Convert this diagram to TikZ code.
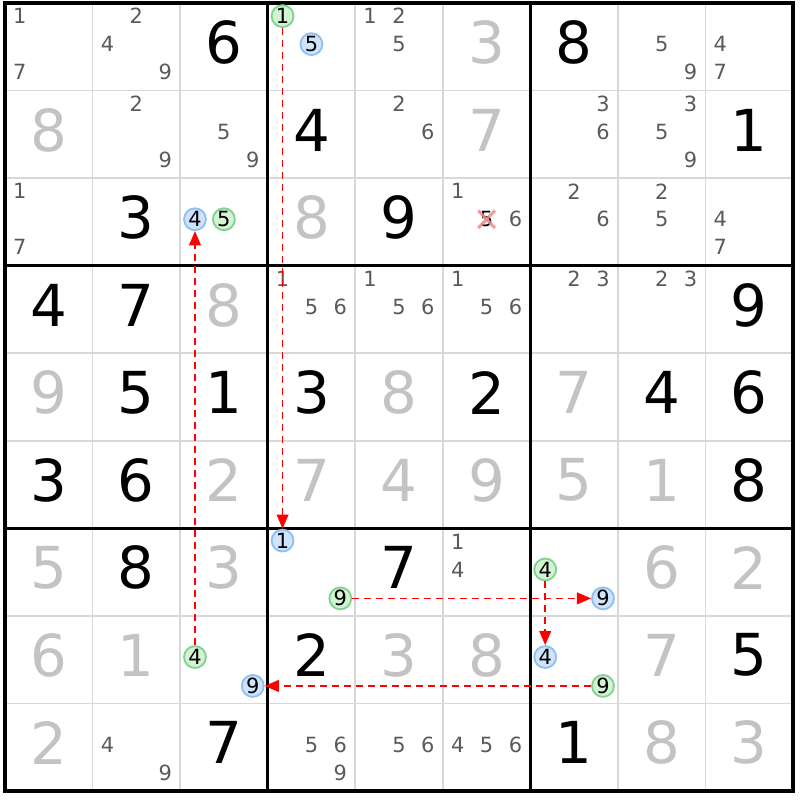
\documentclass[tikz,border=0pt]{standalone}
\usepackage{fontspec}
\setmainfont{DejaVu Sans}
\usepackage{tikz}
\usetikzlibrary{arrows.meta}
\definecolor{solvedgray}{HTML}{C3C3C3}
\definecolor{candgray}{HTML}{5A5A5A}
\definecolor{gridgray}{HTML}{D8D8D8}
\definecolor{onfill}{HTML}{CFE3FB}
\definecolor{ondraw}{HTML}{8FC0F0}
\definecolor{offfill}{HTML}{D4F2D4}
\definecolor{offdraw}{HTML}{7FD48F}
\definecolor{crossred}{HTML}{F08A8A}
\tikzset{%
    given/.style={font=\fontsize{18.8}{20}\selectfont,text=black,inner sep=0pt},
    solved/.style={given,text=solvedgray},
    cand/.style={font=\fontsize{6.8}{8}\selectfont,text=candgray,inner sep=0pt}
}

\begin{document}
\begin{tikzpicture}[
            thin grid/.style={gridgray,line width=0.55pt},
            box grid/.style={black,line width=1.1pt},
            oncand/.style={cand,text=black,circle,draw=ondraw,fill=onfill,minimum size=0.25cm,line width=0.6pt},
            offcand/.style={oncand,draw=offdraw,fill=offfill},
            link/.style={red,dash pattern=on 2.3pt off 1.6pt,line width=0.5pt,-{Triangle[length=4.6pt,width=3.8pt]}},
            cross/.style={crossred,line width=1pt,opacity=0.85}
            ]
            \fill[white] (-0.057,0.034) rectangle (9.08,-9.1);
            \useasboundingbox (-0.057,0.034) rectangle (9.08,-9.1);
            \draw[thin grid] (0,0) grid (9,-9);
            \draw[box grid] (0,0) grid[step=3] (9,-9);
            \draw[box grid] (0,0) rectangle (9,-9);
            % given digits
            \node[given] (r0c2) at (2.5,-0.45) {6};
            \node[given] (r0c6) at (6.5,-0.45) {8};
            \node[given] (r1c3) at (3.5,-1.45) {4};
            \node[given] (r1c8) at (8.5,-1.45) {1};
            \node[given] (r2c1) at (1.5,-2.45) {3};
            \node[given] (r2c4) at (4.5,-2.45) {9};
            \node[given] (r3c0) at (0.5,-3.45) {4};
            \node[given] (r3c1) at (1.5,-3.45) {7};
            \node[given] (r3c8) at (8.5,-3.45) {9};
            \node[given] (r4c1) at (1.5,-4.45) {5};
            \node[given] (r4c2) at (2.5,-4.45) {1};
            \node[given] (r4c3) at (3.5,-4.45) {3};
            \node[given] (r4c5) at (5.5,-4.45) {2};
            \node[given] (r4c7) at (7.5,-4.45) {4};
            \node[given] (r4c8) at (8.5,-4.45) {6};
            \node[given] (r5c0) at (0.5,-5.45) {3};
            \node[given] (r5c1) at (1.5,-5.45) {6};
            \node[given] (r5c8) at (8.5,-5.45) {8};
            \node[given] (r6c1) at (1.5,-6.45) {8};
            \node[given] (r6c4) at (4.5,-6.45) {7};
            \node[given] (r7c3) at (3.5,-7.45) {2};
            \node[given] (r7c8) at (8.5,-7.45) {5};
            \node[given] (r8c2) at (2.5,-8.45) {7};
            \node[given] (r8c6) at (6.5,-8.45) {1};
            % solved digits
            \node[solved] (r0c5) at (5.5,-0.45) {3};
            \node[solved] (r1c0) at (0.5,-1.45) {8};
            \node[solved] (r1c5) at (5.5,-1.45) {7};
            \node[solved] (r2c3) at (3.5,-2.45) {8};
            \node[solved] (r3c2) at (2.5,-3.45) {8};
            \node[solved] (r4c0) at (0.5,-4.45) {9};
            \node[solved] (r4c4) at (4.5,-4.45) {8};
            \node[solved] (r4c6) at (6.5,-4.45) {7};
            \node[solved] (r5c2) at (2.5,-5.45) {2};
            \node[solved] (r5c3) at (3.5,-5.45) {7};
            \node[solved] (r5c4) at (4.5,-5.45) {4};
            \node[solved] (r5c5) at (5.5,-5.45) {9};
            \node[solved] (r5c6) at (6.5,-5.45) {5};
            \node[solved] (r5c7) at (7.5,-5.45) {1};
            \node[solved] (r6c0) at (0.5,-6.45) {5};
            \node[solved] (r6c2) at (2.5,-6.45) {3};
            \node[solved] (r6c7) at (7.5,-6.45) {6};
            \node[solved] (r6c8) at (8.5,-6.45) {2};
            \node[solved] (r7c0) at (0.5,-7.45) {6};
            \node[solved] (r7c1) at (1.5,-7.45) {1};
            \node[solved] (r7c4) at (4.5,-7.45) {3};
            \node[solved] (r7c5) at (5.5,-7.45) {8};
            \node[solved] (r7c7) at (7.5,-7.45) {7};
            \node[solved] (r8c0) at (0.5,-8.45) {2};
            \node[solved] (r8c7) at (7.5,-8.45) {8};
            \node[solved] (r8c8) at (8.5,-8.45) {3};
            % candidates
            \node[cand] (r0c0n1) at (0.17,-0.15) {1};
            \node[cand] (r0c0n7) at (0.17,-0.79) {7};
            \node[cand] (r0c1n2) at (1.5,-0.15) {2};
            \node[cand] (r0c1n4) at (1.17,-0.47) {4};
            \node[cand] (r0c1n9) at (1.83,-0.79) {9};
            \node[offcand] (r0c3n1) at (3.17,-0.15) {1};
            \node[oncand] (r0c3n5) at (3.5,-0.47) {5};
            \node[cand] (r0c4n1) at (4.17,-0.15) {1};
            \node[cand] (r0c4n2) at (4.5,-0.15) {2};
            \node[cand] (r0c4n5) at (4.5,-0.47) {5};
            \node[cand] (r0c7n5) at (7.5,-0.47) {5};
            \node[cand] (r0c7n9) at (7.83,-0.79) {9};
            \node[cand] (r0c8n4) at (8.17,-0.47) {4};
            \node[cand] (r0c8n7) at (8.17,-0.79) {7};
            \node[cand] (r1c1n2) at (1.5,-1.15) {2};
            \node[cand] (r1c1n9) at (1.83,-1.79) {9};
            \node[cand] (r1c2n5) at (2.5,-1.47) {5};
            \node[cand] (r1c2n9) at (2.83,-1.79) {9};
            \node[cand] (r1c4n2) at (4.5,-1.15) {2};
            \node[cand] (r1c4n6) at (4.83,-1.47) {6};
            \node[cand] (r1c6n3) at (6.83,-1.15) {3};
            \node[cand] (r1c6n6) at (6.83,-1.47) {6};
            \node[cand] (r1c7n3) at (7.83,-1.15) {3};
            \node[cand] (r1c7n5) at (7.5,-1.47) {5};
            \node[cand] (r1c7n9) at (7.83,-1.79) {9};
            \node[cand] (r2c0n1) at (0.17,-2.15) {1};
            \node[cand] (r2c0n7) at (0.17,-2.79) {7};
            \node[oncand] (r2c2n4) at (2.17,-2.47) {4};
            \node[offcand] (r2c2n5) at (2.5,-2.47) {5};
            \node[cand] (r2c5n1) at (5.17,-2.15) {1};
            \node[cand,text=black] (r2c5n5) at (5.5,-2.47) {5};
            \node[cand] (r2c5n6) at (5.83,-2.47) {6};
            \node[cand] (r2c6n2) at (6.5,-2.15) {2};
            \node[cand] (r2c6n6) at (6.83,-2.47) {6};
            \node[cand] (r2c7n2) at (7.5,-2.15) {2};
            \node[cand] (r2c7n5) at (7.5,-2.47) {5};
            \node[cand] (r2c8n4) at (8.17,-2.47) {4};
            \node[cand] (r2c8n7) at (8.17,-2.79) {7};
            \node[cand] (r3c3n1) at (3.17,-3.15) {1};
            \node[cand] (r3c3n5) at (3.5,-3.47) {5};
            \node[cand] (r3c3n6) at (3.83,-3.47) {6};
            \node[cand] (r3c4n1) at (4.17,-3.15) {1};
            \node[cand] (r3c4n5) at (4.5,-3.47) {5};
            \node[cand] (r3c4n6) at (4.83,-3.47) {6};
            \node[cand] (r3c5n1) at (5.17,-3.15) {1};
            \node[cand] (r3c5n5) at (5.5,-3.47) {5};
            \node[cand] (r3c5n6) at (5.83,-3.47) {6};
            \node[cand] (r3c6n2) at (6.5,-3.15) {2};
            \node[cand] (r3c6n3) at (6.83,-3.15) {3};
            \node[cand] (r3c7n2) at (7.5,-3.15) {2};
            \node[cand] (r3c7n3) at (7.83,-3.15) {3};
            \node[oncand] (r6c3n1) at (3.17,-6.14) {1};
            \node[offcand] (r6c3n9) at (3.83,-6.8) {9};
            \node[cand] (r6c5n1) at (5.17,-6.15) {1};
            \node[cand] (r6c5n4) at (5.17,-6.47) {4};
            \node[offcand] (r6c6n4) at (6.17,-6.47) {4};
            \node[oncand] (r6c6n9) at (6.83,-6.8) {9};
            \node[offcand] (r7c2n4) at (2.17,-7.47) {4};
            \node[oncand] (r7c2n9) at (2.83,-7.8) {9};
            \node[oncand] (r7c6n4) at (6.17,-7.47) {4};
            \node[offcand] (r7c6n9) at (6.83,-7.8) {9};
            \node[cand] (r8c1n4) at (1.17,-8.47) {4};
            \node[cand] (r8c1n9) at (1.83,-8.79) {9};
            \node[cand] (r8c3n5) at (3.5,-8.47) {5};
            \node[cand] (r8c3n6) at (3.83,-8.47) {6};
            \node[cand] (r8c3n9) at (3.83,-8.79) {9};
            \node[cand] (r8c4n5) at (4.5,-8.47) {5};
            \node[cand] (r8c4n6) at (4.83,-8.47) {6};
            \node[cand] (r8c5n4) at (5.17,-8.47) {4};
            \node[cand] (r8c5n5) at (5.5,-8.47) {5};
            \node[cand] (r8c5n6) at (5.83,-8.47) {6};
            % chain
            \draw[link] (r0c3n1) -- (r6c3n1);
            \draw[link] (r7c2n4) -- (r2c2n4);
            \draw[link] (r6c3n9) -- (r6c6n9);
            \draw[link] (r6c6n4) -- (r7c6n4);
            \draw[link] (r7c6n9) -- (r7c2n9);
            \draw[cross] (r2c5n5.center) +(-0.095,0.1) -- +(0.095,-0.1);
            \draw[cross] (r2c5n5.center) +(-0.095,-0.1) -- +(0.095,0.1);
        \end{tikzpicture}
\end{document}
